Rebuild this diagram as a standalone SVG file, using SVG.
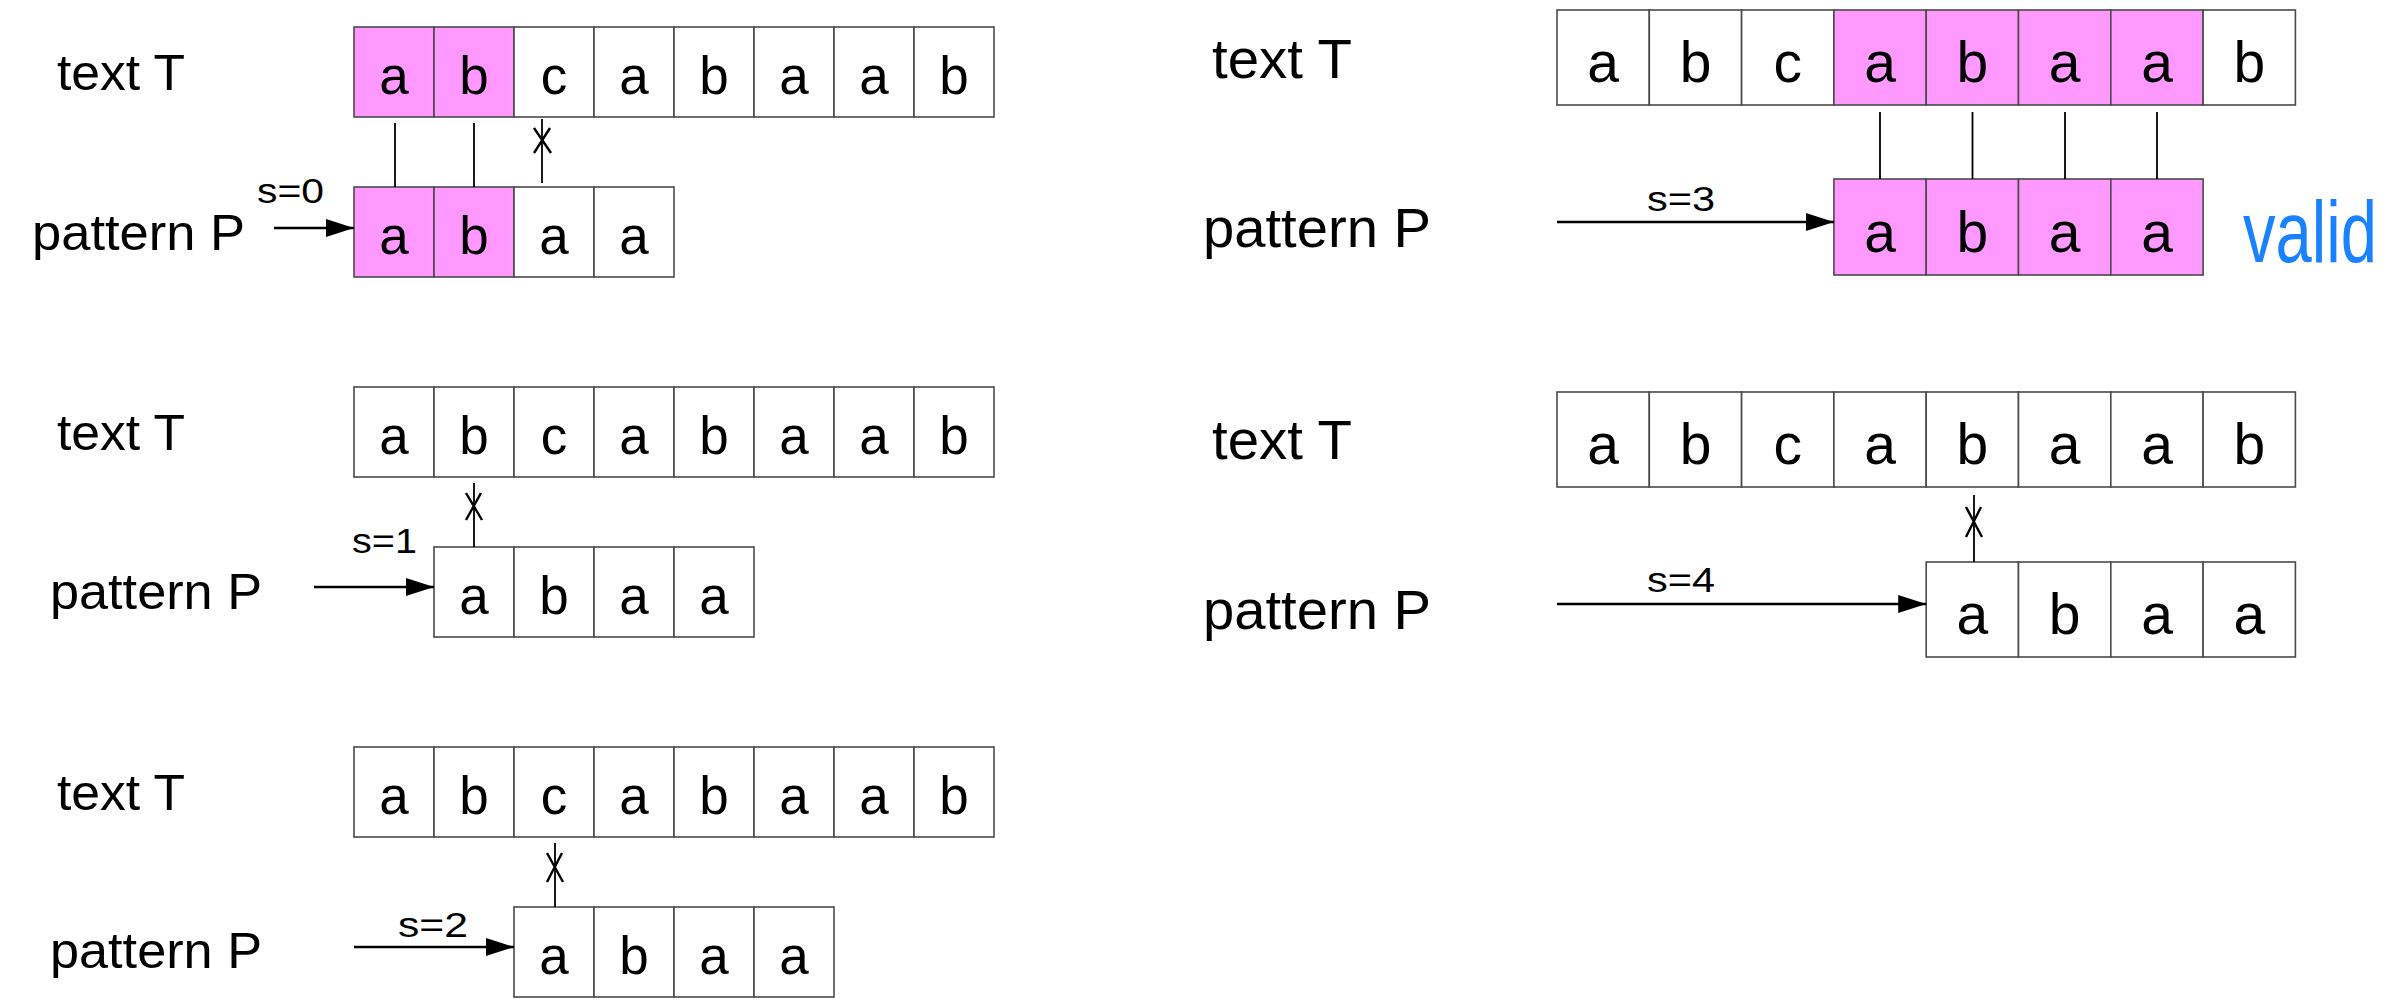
<svg xmlns="http://www.w3.org/2000/svg" width="2404" height="1000" viewBox="0 0 2404 1000">
<style>
.cell{fill:#ffffff;stroke:#4a4a4a;stroke-width:1.6}
.hit{fill:#ff99ff;stroke:#4a4a4a;stroke-width:1.6}
.ch{font-family:"Liberation Sans",Arial,sans-serif;text-anchor:middle;fill:#000}
.chl{font-size:53px}
.chr{font-size:57px}
.lbl{font-family:"Liberation Sans",Arial,sans-serif;fill:#000}
.sl{font-family:"Liberation Sans",Arial,sans-serif;fill:#000;font-size:35px}
.ln{stroke:#000;stroke-width:1.8;fill:none}
.arr{stroke:#000;stroke-width:2.6;fill:none;marker-end:url(#ah)}
.xm{stroke:#000;stroke-width:2.4;fill:none}
</style>
<defs>
<marker id="ah" markerUnits="userSpaceOnUse" markerWidth="30" markerHeight="20" refX="28" refY="9" orient="auto">
<path d="M0,0 L28,9 L0,18 Z" fill="#000"/>
</marker>
</defs>
<rect width="2404" height="1000" fill="#ffffff"/>

<!-- ===== Left row 1 (s=0) ===== -->
<g id="label-text-1"><text class="lbl" x="57" y="90" font-size="50" textLength="128" lengthAdjust="spacingAndGlyphs">text T</text></g>
<g id="label-pattern-1"><text class="lbl" x="32" y="250" font-size="50" textLength="213" lengthAdjust="spacingAndGlyphs">pattern P</text></g>
<g id="text-1">
<rect class="hit" x="354" y="27" width="80" height="90"/>
<rect class="hit" x="434" y="27" width="80" height="90"/>
<rect class="cell" x="514" y="27" width="80" height="90"/>
<rect class="cell" x="594" y="27" width="80" height="90"/>
<rect class="cell" x="674" y="27" width="80" height="90"/>
<rect class="cell" x="754" y="27" width="80" height="90"/>
<rect class="cell" x="834" y="27" width="80" height="90"/>
<rect class="cell" x="914" y="27" width="80" height="90"/>
<text class="ch chl" x="394" y="94">a</text><text class="ch chl" x="474" y="94">b</text><text class="ch chl" x="554" y="94">c</text><text class="ch chl" x="634" y="94">a</text><text class="ch chl" x="714" y="94">b</text><text class="ch chl" x="794" y="94">a</text><text class="ch chl" x="874" y="94">a</text><text class="ch chl" x="954" y="94">b</text>
</g>
<g id="pattern-1">
<rect class="hit" x="354" y="187" width="80" height="90"/>
<rect class="hit" x="434" y="187" width="80" height="90"/>
<rect class="cell" x="514" y="187" width="80" height="90"/>
<rect class="cell" x="594" y="187" width="80" height="90"/>
<text class="ch chl" x="394" y="254">a</text><text class="ch chl" x="474" y="254">b</text><text class="ch chl" x="554" y="254">a</text><text class="ch chl" x="634" y="254">a</text>
</g>
<g id="shift-1"><text class="sl" x="257" y="203" textLength="67" lengthAdjust="spacingAndGlyphs">s=0</text></g>

<!-- ===== Left row 2 (s=1) ===== -->
<g id="label-text-2"><text class="lbl" x="57" y="450" font-size="50" textLength="128" lengthAdjust="spacingAndGlyphs">text T</text></g>
<g id="label-pattern-2"><text class="lbl" x="50" y="609" font-size="50" textLength="212" lengthAdjust="spacingAndGlyphs">pattern P</text></g>
<g id="text-2">
<rect class="cell" x="354" y="387" width="80" height="90"/>
<rect class="cell" x="434" y="387" width="80" height="90"/>
<rect class="cell" x="514" y="387" width="80" height="90"/>
<rect class="cell" x="594" y="387" width="80" height="90"/>
<rect class="cell" x="674" y="387" width="80" height="90"/>
<rect class="cell" x="754" y="387" width="80" height="90"/>
<rect class="cell" x="834" y="387" width="80" height="90"/>
<rect class="cell" x="914" y="387" width="80" height="90"/>
<text class="ch chl" x="394" y="454">a</text><text class="ch chl" x="474" y="454">b</text><text class="ch chl" x="554" y="454">c</text><text class="ch chl" x="634" y="454">a</text><text class="ch chl" x="714" y="454">b</text><text class="ch chl" x="794" y="454">a</text><text class="ch chl" x="874" y="454">a</text><text class="ch chl" x="954" y="454">b</text>
</g>
<g id="pattern-2">
<rect class="cell" x="434" y="547" width="80" height="90"/>
<rect class="cell" x="514" y="547" width="80" height="90"/>
<rect class="cell" x="594" y="547" width="80" height="90"/>
<rect class="cell" x="674" y="547" width="80" height="90"/>
<text class="ch chl" x="474" y="614">a</text><text class="ch chl" x="554" y="614">b</text><text class="ch chl" x="634" y="614">a</text><text class="ch chl" x="714" y="614">a</text>
</g>
<g id="shift-2"><text class="sl" x="352" y="553" textLength="65" lengthAdjust="spacingAndGlyphs">s=1</text></g>

<!-- ===== Left row 3 (s=2) ===== -->
<g id="label-text-3"><text class="lbl" x="57" y="810" font-size="50" textLength="128" lengthAdjust="spacingAndGlyphs">text T</text></g>
<g id="label-pattern-3"><text class="lbl" x="50" y="968" font-size="50" textLength="212" lengthAdjust="spacingAndGlyphs">pattern P</text></g>
<g id="text-3">
<rect class="cell" x="354" y="747" width="80" height="90"/>
<rect class="cell" x="434" y="747" width="80" height="90"/>
<rect class="cell" x="514" y="747" width="80" height="90"/>
<rect class="cell" x="594" y="747" width="80" height="90"/>
<rect class="cell" x="674" y="747" width="80" height="90"/>
<rect class="cell" x="754" y="747" width="80" height="90"/>
<rect class="cell" x="834" y="747" width="80" height="90"/>
<rect class="cell" x="914" y="747" width="80" height="90"/>
<text class="ch chl" x="394" y="814">a</text><text class="ch chl" x="474" y="814">b</text><text class="ch chl" x="554" y="814">c</text><text class="ch chl" x="634" y="814">a</text><text class="ch chl" x="714" y="814">b</text><text class="ch chl" x="794" y="814">a</text><text class="ch chl" x="874" y="814">a</text><text class="ch chl" x="954" y="814">b</text>
</g>
<g id="pattern-3">
<rect class="cell" x="514" y="907" width="80" height="90"/>
<rect class="cell" x="594" y="907" width="80" height="90"/>
<rect class="cell" x="674" y="907" width="80" height="90"/>
<rect class="cell" x="754" y="907" width="80" height="90"/>
<text class="ch chl" x="554" y="974">a</text><text class="ch chl" x="634" y="974">b</text><text class="ch chl" x="714" y="974">a</text><text class="ch chl" x="794" y="974">a</text>
</g>
<g id="shift-3"><text class="sl" x="398" y="937" textLength="70" lengthAdjust="spacingAndGlyphs">s=2</text></g>

<!-- ===== Right row 1 (s=3) ===== -->
<g id="label-text-4"><text class="lbl" x="1212" y="78" font-size="55" textLength="140" lengthAdjust="spacingAndGlyphs">text T</text></g>
<g id="label-pattern-4"><text class="lbl" x="1203" y="247" font-size="55" textLength="228" lengthAdjust="spacingAndGlyphs">pattern P</text></g>
<g id="text-4">
<rect class="cell" x="1557" y="10" width="92.3" height="95"/>
<rect class="cell" x="1649.3" y="10" width="92.3" height="95"/>
<rect class="cell" x="1741.6" y="10" width="92.3" height="95"/>
<rect class="hit" x="1833.9" y="10" width="92.3" height="95"/>
<rect class="hit" x="1926.2" y="10" width="92.3" height="95"/>
<rect class="hit" x="2018.5" y="10" width="92.3" height="95"/>
<rect class="hit" x="2110.8" y="10" width="92.3" height="95"/>
<rect class="cell" x="2203.1" y="10" width="92.3" height="95"/>
<text class="ch chr" x="1603" y="82">a</text><text class="ch chr" x="1695.5" y="82">b</text><text class="ch chr" x="1787.8" y="82">c</text><text class="ch chr" x="1880" y="82">a</text><text class="ch chr" x="1972.3" y="82">b</text><text class="ch chr" x="2064.6" y="82">a</text><text class="ch chr" x="2157" y="82">a</text><text class="ch chr" x="2249.3" y="82">b</text>
</g>
<g id="pattern-4">
<rect class="hit" x="1833.9" y="179" width="92.3" height="96"/>
<rect class="hit" x="1926.2" y="179" width="92.3" height="96"/>
<rect class="hit" x="2018.5" y="179" width="92.3" height="96"/>
<rect class="hit" x="2110.8" y="179" width="92.3" height="96"/>
<text class="ch chr" x="1880" y="252">a</text><text class="ch chr" x="1972.3" y="252">b</text><text class="ch chr" x="2064.6" y="252">a</text><text class="ch chr" x="2157" y="252">a</text>
</g>
<g id="shift-4"><text class="sl" x="1647" y="211" textLength="68" lengthAdjust="spacingAndGlyphs">s=3</text></g>
<g id="valid" transform="translate(2243,262) scale(1,1.25)"><text x="0" y="0" font-family="Liberation Sans, Arial, sans-serif" font-size="70" fill="#1a82ff" textLength="134" lengthAdjust="spacingAndGlyphs">valid</text></g>

<!-- ===== Right row 2 (s=4) ===== -->
<g id="label-text-5"><text class="lbl" x="1212" y="459" font-size="55" textLength="140" lengthAdjust="spacingAndGlyphs">text T</text></g>
<g id="label-pattern-5"><text class="lbl" x="1203" y="629" font-size="55" textLength="228" lengthAdjust="spacingAndGlyphs">pattern P</text></g>
<g id="text-5">
<rect class="cell" x="1557" y="392" width="92.3" height="95"/>
<rect class="cell" x="1649.3" y="392" width="92.3" height="95"/>
<rect class="cell" x="1741.6" y="392" width="92.3" height="95"/>
<rect class="cell" x="1833.9" y="392" width="92.3" height="95"/>
<rect class="cell" x="1926.2" y="392" width="92.3" height="95"/>
<rect class="cell" x="2018.5" y="392" width="92.3" height="95"/>
<rect class="cell" x="2110.8" y="392" width="92.3" height="95"/>
<rect class="cell" x="2203.1" y="392" width="92.3" height="95"/>
<text class="ch chr" x="1603" y="464">a</text><text class="ch chr" x="1695.5" y="464">b</text><text class="ch chr" x="1787.8" y="464">c</text><text class="ch chr" x="1880" y="464">a</text><text class="ch chr" x="1972.3" y="464">b</text><text class="ch chr" x="2064.6" y="464">a</text><text class="ch chr" x="2157" y="464">a</text><text class="ch chr" x="2249.3" y="464">b</text>
</g>
<g id="pattern-5">
<rect class="cell" x="1926.2" y="562" width="92.3" height="95"/>
<rect class="cell" x="2018.5" y="562" width="92.3" height="95"/>
<rect class="cell" x="2110.8" y="562" width="92.3" height="95"/>
<rect class="cell" x="2203.1" y="562" width="92.3" height="95"/>
<text class="ch chr" x="1972.3" y="634">a</text><text class="ch chr" x="2064.6" y="634">b</text><text class="ch chr" x="2157" y="634">a</text><text class="ch chr" x="2249.3" y="634">a</text>
</g>
<g id="shift-5"><text class="sl" x="1647" y="592" textLength="68" lengthAdjust="spacingAndGlyphs">s=4</text></g>

<!-- ===== Connectors ===== -->
<g id="connectors">
<!-- shift arrows -->
<line class="arr" x1="274" y1="228" x2="354" y2="228"/>
<line class="arr" x1="314" y1="587" x2="434" y2="587"/>
<line class="arr" x1="354" y1="947" x2="514" y2="947"/>
<line class="arr" x1="1557" y1="222" x2="1833.9" y2="222"/>
<line class="arr" x1="1557" y1="604" x2="1926.2" y2="604"/>
<!-- match lines -->
<line class="ln" x1="395" y1="123" x2="395" y2="187"/>
<line class="ln" x1="474" y1="123" x2="474" y2="187"/>
<line class="ln" x1="1880" y1="112" x2="1880" y2="179"/>
<line class="ln" x1="1972.5" y1="112" x2="1972.5" y2="179"/>
<line class="ln" x1="2065" y1="112" x2="2065" y2="179"/>
<line class="ln" x1="2157" y1="112" x2="2157" y2="179"/>
<!-- mismatch lines with X marks -->
<line class="ln" x1="542" y1="119" x2="542" y2="183"/>
<path class="xm" d="M534,128 L551,153 M550,128 L534,153"/>
<line class="ln" x1="474" y1="483" x2="474" y2="547"/>
<path class="xm" d="M466,493 L482,520 M481,493 L466,520"/>
<line class="ln" x1="555" y1="843" x2="555" y2="907"/>
<path class="xm" d="M547,853 L563,882 M562,853 L547,882"/>
<line class="ln" x1="1974" y1="495" x2="1974" y2="562"/>
<path class="xm" d="M1966,507 L1982,537 M1981,507 L1966,537"/>
</g>
</svg>
